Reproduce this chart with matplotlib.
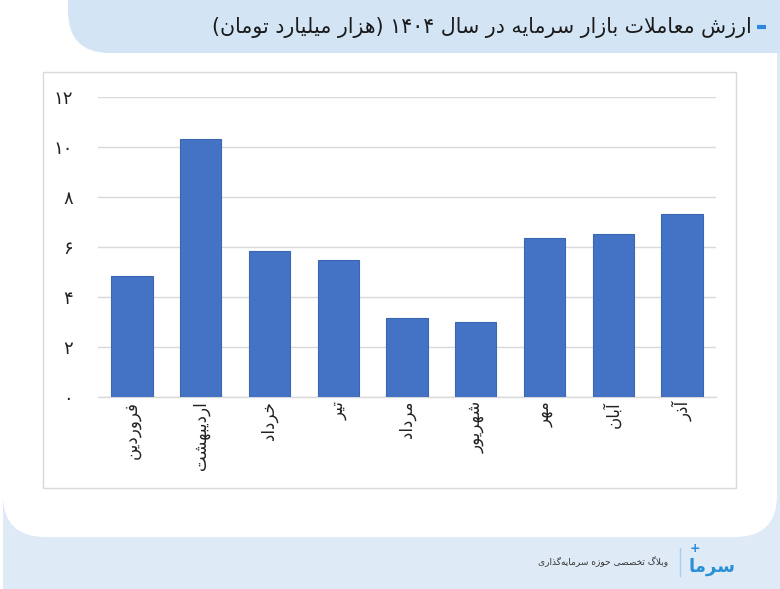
import re
import matplotlib
matplotlib.use('Agg')
import matplotlib.pyplot as plt
from matplotlib.patches import FancyBboxPatch, Rectangle

# data
months = ['فروردین', 'اردیبهشت', 'خرداد', 'تیر', 'مرداد', 'شهریور', 'مهر', 'آبان', 'آذر']
values = [4.84, 10.31, 5.82, 5.46, 3.14, 2.98, 6.35, 6.51, 7.31]
yticks = [0, 2, 4, 6, 8, 10, 12]
title = 'ارزش معاملات بازار سرمایه در سال ۱۴۰۴ (هزار میلیارد تومان)'
footer = 'وبلاگ تخصصی حوزه سرمایه\u200cگذاری'
logo = 'سرما'


# --- tiny persian shaper (matplotlib has no bidi / shaping) ---
def f4(b):
    return (b, b + 1, b + 2, b + 3)

def f2(b):
    return (b, b + 1, None, None)

FORMS = {
    'آ': f2(0xFE81), 'ا': f2(0xFE8D), 'ب': f4(0xFE8F), 'پ': f4(0xFB56),
    'ت': f4(0xFE95), 'ث': f4(0xFE99), 'ج': f4(0xFE9D), 'چ': f4(0xFB7A),
    'ح': f4(0xFEA1), 'خ': f4(0xFEA5), 'د': f2(0xFEA9), 'ذ': f2(0xFEAB),
    'ر': f2(0xFEAD), 'ز': f2(0xFEAF), 'ژ': f2(0xFB8A), 'س': f4(0xFEB1),
    'ش': f4(0xFEB5), 'ص': f4(0xFEB9), 'ض': f4(0xFEBD), 'ط': f4(0xFEC1),
    'ظ': f4(0xFEC5), 'ع': f4(0xFEC9), 'غ': f4(0xFECD), 'ف': f4(0xFED1),
    'ق': f4(0xFED5), 'ک': f4(0xFB8E), 'گ': f4(0xFB92), 'ل': f4(0xFEDD),
    'م': f4(0xFEE1), 'ن': f4(0xFEE5), 'و': f2(0xFEED), 'ه': f4(0xFEE9),
    'ی': f4(0xFBFC),
}

def dual(c):
    return c in FORMS and FORMS[c][2] is not None

def shape(s):
    out = []
    i = 0
    prev = None
    while i < len(s):
        c = s[i]
        if c == '\u200c':
            prev = None
            i += 1
            continue
        if c not in FORMS:
            out.append(c)
            prev = None
            i += 1
            continue
        pj = prev is not None and dual(prev)
        nxt = s[i + 1] if i + 1 < len(s) else ''
        if c == 'ل' and nxt in ('ا', 'آ'):
            lig = (0xFEFB, 0xFEFC) if nxt == 'ا' else (0xFEF5, 0xFEF6)
            out.append(chr(lig[1] if pj else lig[0]))
            prev = nxt
            i += 2
            continue
        nc = dual(c) and nxt in FORMS
        iso, fin, ini, med = FORMS[c]
        if pj and nc:
            g = med
        elif pj:
            g = fin
        elif nc:
            g = ini
        else:
            g = iso
        out.append(chr(g))
        prev = c
        i += 1
    return ''.join(out)

mirror = str.maketrans('()', ')(')

def fa(s):
    runs = re.findall(r'[0-9۰-۹]+|[^0-9۰-۹]+', shape(s))
    res = []
    for r in reversed(runs):
        if r[0].isdigit():
            res.append(r)
        else:
            res.append(r[::-1].translate(mirror))
    return ''.join(res)

def fa_num(n):
    return str(n).translate(str.maketrans('0123456789', '۰۱۲۳۴۵۶۷۸۹'))


plt.rcParams['font.family'] = ['DejaVu Sans']

fig = plt.figure(figsize=(7.8, 5.89), dpi=100, facecolor='white')

# background decoration in pixel coords
bg = fig.add_axes([0, 0, 1, 1], zorder=0)
bg.set_xlim(0, 780)
bg.set_ylim(589, 0)
bg.axis('off')
bg.add_patch(Rectangle((3, 470), 777, 130, color='#deebf7', lw=0))
bg.add_patch(Rectangle((777, 40), 10, 560, color='#deebf7', lw=0))
bg.add_patch(FancyBboxPatch((3, 20), 774, 517, boxstyle='round,pad=0,rounding_size=42',
                            fc='white', ec='none'))
bg.add_patch(FancyBboxPatch((68, -60), 760, 113, boxstyle='round,pad=0,rounding_size=42',
                            fc='#d3e5f5', ec='none'))
bg.add_patch(Rectangle((43, 72), 693, 416, fill=False, ec='#d9d9d9', lw=1))

bg.text(752, 27, fa(title), ha='right', va='center', fontsize=14.8, color='#1a1a1a')
bg.plot([757, 766], [27, 27], color='#2e86de', lw=3, solid_capstyle='butt')

# footer
bg.text(736, 567, fa(logo), ha='right', va='center', fontsize=13, color='#2b8fd8',
        fontweight='bold')
bg.text(695, 549, '+', ha='center', va='center', fontsize=9, color='#2b8fd8',
        fontweight='bold')
bg.plot([680, 680], [548, 576], color='#a9cdee', lw=1)
bg.text(668, 562, fa(footer), ha='right', va='center', fontsize=6.5, color='#333333')

# chart
ax = fig.add_axes([97.6 / 780, 1 - 396.7 / 589, 618.8 / 780, 300 / 589], zorder=2)
ax.patch.set_alpha(0)
x = range(len(months))
ax.bar(x, values, width=0.6, color='#4472c4', edgecolor='#3b66b3', linewidth=0.8, zorder=3)
ax.set_xlim(-0.5, len(months) - 0.5)
ax.set_ylim(0, 12)
ax.set_yticks(yticks)
ax.set_yticklabels([fa_num(v) for v in yticks], fontsize=13, color='#222222')
ax.set_xticks(list(x))
ax.set_xticklabels([fa(m) for m in months], rotation=90, fontsize=12, color='#222222',
                   va='top', ha='center')
ax.tick_params(axis='both', length=0)
ax.tick_params(axis='y', pad=18)
ax.tick_params(axis='x', pad=3)
ax.grid(axis='y', color='#d9d9d9', lw=1, zorder=0)
for s in ['top', 'right', 'left']:
    ax.spines[s].set_visible(False)
ax.spines['bottom'].set_color('#d9d9d9')
ax.spines['bottom'].set_linewidth(1)

fig.savefig('out.png', dpi=100, facecolor='white')
